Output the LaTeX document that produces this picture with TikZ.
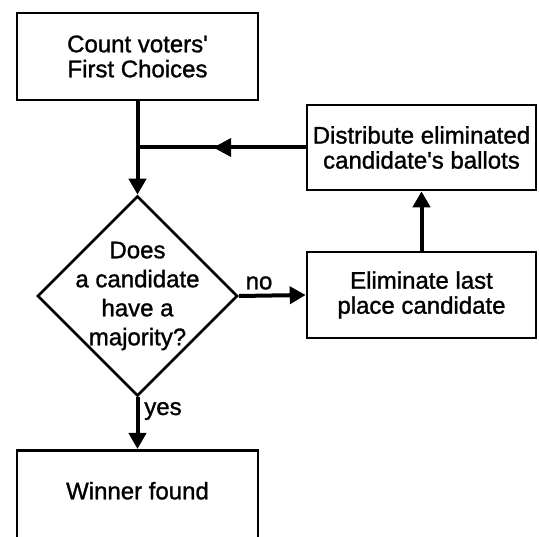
\documentclass[tikz,border=0pt]{standalone}
\usepackage{fontspec}
\setmainfont[FakeBold=1.2]{Liberation Sans}
\usetikzlibrary{shapes.geometric,arrows.meta,decorations.markings}
\begin{document}
\begin{tikzpicture}[x=1pt,y=-1pt,
  box/.style={draw, line width=2.6pt, rectangle, inner sep=0pt, align=center, font=\fontsize{24}{25}\selectfont},
  flow/.style={line width=4pt, -{Triangle[length=16pt,width=17pt]}},
  midflow/.style={line width=4pt, decoration={markings, mark=at position 0.55 with {\arrow{Triangle[length=18pt,width=18pt]}}}, postaction={decorate}},
  lbl/.style={font=\fontsize{24}{25}\selectfont, inner sep=0pt}]
\useasboundingbox (0,0) rectangle (539,537);
\clip (0,0) rectangle (539,537);
\node[box, minimum width=241pt, minimum height=87pt] (count) at (137.5,56.5) {Count voters\textquotesingle\\First Choices};
\node[box, minimum width=229pt, minimum height=85pt] (dist) at (421.5,147.5) {Distribute eliminated\\candidate\textquotesingle s ballots};
\node[box, minimum width=229pt, minimum height=86pt] (elim) at (421.5,295) {Eliminate last\\place candidate};
\node[draw, diamond, aspect=1, line width=2.6pt, inner sep=-12pt, minimum width=200pt, minimum height=200pt, align=center, font=\fontsize{24}{29}\selectfont] (dec) at (137.5,296) {Does\\a candidate\\have a\\majority?};
\node[draw, line width=2.6pt, rectangle, inner sep=0pt, anchor=north, minimum width=241pt, text height=49pt, text depth=80pt, font=\fontsize{24}{25}\selectfont] (win) at (137.5,449) {Winner found};
\coordinate (junc) at (count.south |- dist.west);
\draw[flow] (count.south) -- (dec.north);
\draw[midflow] (dist.west) -- (junc);
\draw[flow] (dec.east) -- (elim.west);
\draw[flow] (elim.north) -- (dist.south);
\draw[flow] (dec.south) -- (win.north);
\node[lbl] (no) at (259,283) {no};
\node[lbl] (yes) at (163,411) {yes};
\end{tikzpicture}
\end{document}
